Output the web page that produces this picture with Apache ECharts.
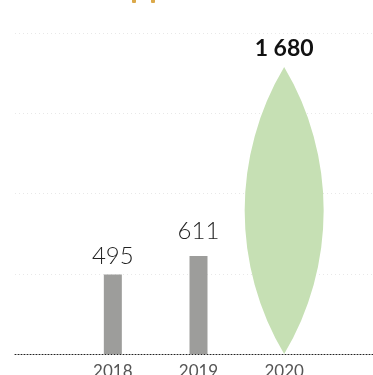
<!DOCTYPE html>
<html><head><meta charset="utf-8">
<script src="https://cdn.jsdelivr.net/npm/echarts@6/dist/echarts.min.js"></script>
<style>html,body{margin:0;padding:0;background:#fff}#c{width:373px;height:375px}</style>
</head><body><div id="c"></div>
<script>
var categories = ['2018', '2019', '2020'];
var barValues = [495, 611, '-'];
var lensValues = ['-', '-', 1680];
var lensLabels = ['', '', '1 680'];
var yTicks = [0, 500, 1000, 1500, 2000];

var labelDistances = [6, 13, 0];
var chart = echarts.init(document.getElementById('c'));
var lensPath = 'path://M40 0 A278.6 278.6 0 0 1 40 286 A278.6 278.6 0 0 1 40 0 Z M0 143 M80 143';
chart.setOption({
  animation: false,
  graphic: [
    {type: 'rect', shape: {x: 132, y: -3, width: 4, height: 6, r: 1}, style: {fill: '#dba94a'}},
    {type: 'rect', shape: {x: 151, y: -3, width: 4, height: 6, r: 1}, style: {fill: '#dba94a'}}
  ],
  grid: [
    {left: 15, right: 0, top: 33, bottom: 21, outerBoundsMode: 'none', containLabel: false},
    {left: 70, right: 46, top: 33, bottom: 21, outerBoundsMode: 'none', containLabel: false}
  ],
  xAxis: [
    {gridIndex: 0, type: 'category', data: ['a'], axisTick: {show: false}, axisLabel: {show: false},
     axisLine: {lineStyle: {color: '#222', type: [1, 2], width: 1}}},
    {gridIndex: 1, type: 'category', data: categories, axisTick: {show: false}, axisLine: {show: false},
     axisLabel: {color: '#555', fontSize: 17, fontFamily: 'Lato', margin: 9}}
  ],
  yAxis: [
    {gridIndex: 0, type: 'value', min: yTicks[0], max: yTicks[yTicks.length - 1], interval: 500,
     axisLabel: {show: false}, axisLine: {show: false}, axisTick: {show: false},
     splitLine: {lineStyle: {color: '#e8e8e8', type: [1, 3]}}},
    {gridIndex: 1, type: 'value', min: yTicks[0], max: yTicks[yTicks.length - 1], interval: 500,
     show: false, splitLine: {show: false}}
  ],
  series: [
    {type: 'bar', xAxisIndex: 1, yAxisIndex: 1, barWidth: 18,
     data: barValues.map(function (v, i) { return {value: v, label: {distance: labelDistances[i]}}; }),
     itemStyle: {color: '#9d9d9b'},
     label: {show: true, position: 'top', color: '#222', fontSize: 24,
             fontFamily: 'Lato', fontWeight: 300}},
    {type: 'pictorialBar', xAxisIndex: 1, yAxisIndex: 1, data: lensValues,
     symbol: lensPath, symbolSize: [80, '106.4%'], symbolPosition: 'start',
     itemStyle: {color: '#c6e0b4'},
     label: {show: true, position: 'top', distance: 7, color: '#111', fontSize: 23,
             fontFamily: 'Lato', fontWeight: 'bold',
             formatter: function (p) { return lensLabels[p.dataIndex]; }}}
  ]
});
</script></body></html>
